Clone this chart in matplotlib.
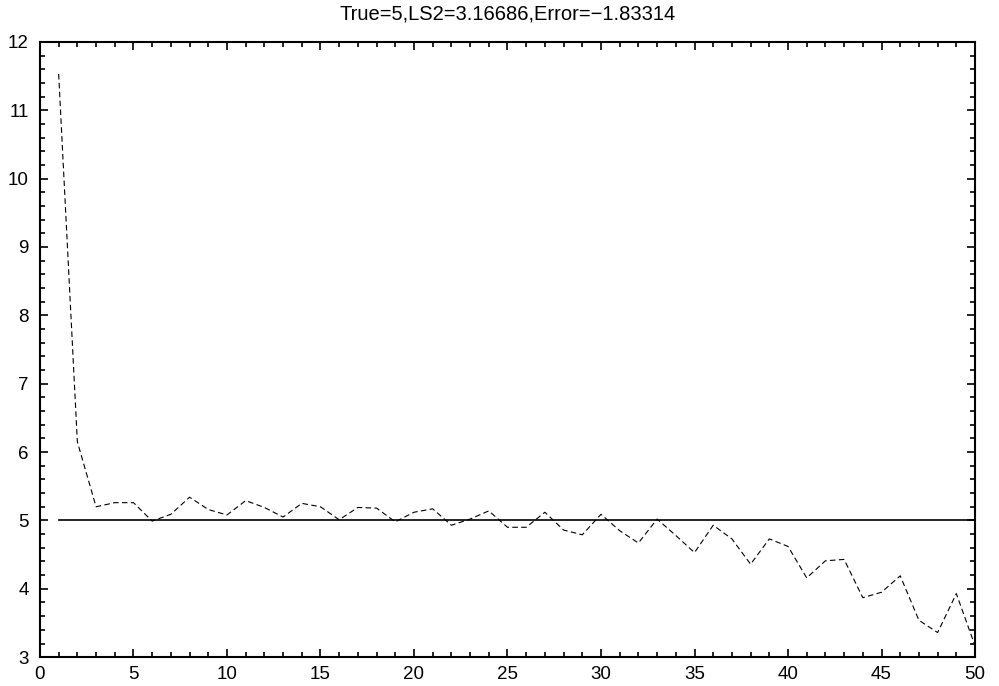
import matplotlib
matplotlib.use("Agg")
import matplotlib.pyplot as plt
from matplotlib.ticker import MultipleLocator

# Schaetzwerte pro Iteration
iterations = list(range(1, 51))
estimates = [11.53, 6.15, 5.20, 5.26, 5.26, 4.99, 5.09, 5.34, 5.16, 5.08,
             5.29, 5.19, 5.05, 5.25, 5.20, 5.01, 5.19, 5.18, 4.98, 5.12,
             5.17, 4.93, 5.02, 5.14, 4.90, 4.90, 5.12, 4.86, 4.79, 5.09,
             4.85, 4.67, 5.02, 4.78, 4.53, 4.93, 4.73, 4.36, 4.73, 4.62,
             4.16, 4.41, 4.43, 3.87, 3.95, 4.19, 3.54, 3.36, 3.93, 3.167]
true_x = [1, 50]
true_y = [5, 5]
title = "True=5,LS2=3.16686,Error=\u22121.83314"

plt.rcParams['font.family'] = ['Liberation Sans', 'DejaVu Sans']

fig = plt.figure(figsize=(9.99, 6.86), dpi=100)
ax = fig.add_axes([0.04, 0.042, 0.936, 0.897])

ax.plot(iterations, estimates, color='black', linestyle=(0, (5, 3)), linewidth=0.8)
ax.plot(true_x, true_y, color='black', linestyle='-', linewidth=1.2)

ax.set_xlim(0, 50)
ax.set_ylim(3, 12)
ax.xaxis.set_major_locator(MultipleLocator(5))
ax.xaxis.set_minor_locator(MultipleLocator(1))
ax.yaxis.set_major_locator(MultipleLocator(1))
ax.yaxis.set_minor_locator(MultipleLocator(0.2))
ax.tick_params(which='both', direction='in', top=True, right=True, labelsize=13.5, width=1.2)
ax.tick_params(which='major', length=6)
ax.tick_params(which='minor', length=3.5)
ax.tick_params(axis='y', which='major', pad=8)
ax.tick_params(axis='x', which='major', pad=6)
for s in ax.spines.values():
    s.set_linewidth(1.5)

ax.set_title(title, fontsize=14.5, pad=16)

plt.savefig('out.png', dpi=100)
